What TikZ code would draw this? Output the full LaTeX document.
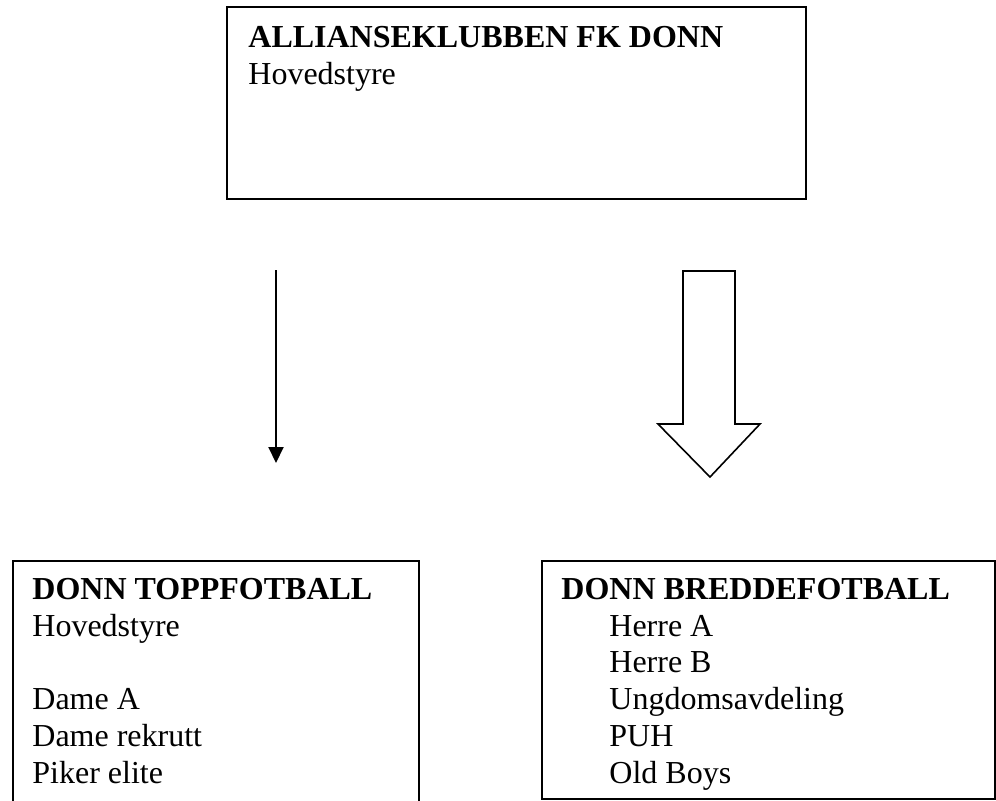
\documentclass[tikz,border=0pt]{standalone}
\usepackage{fontspec}
\setmainfont{Liberation Serif}
\usetikzlibrary{arrows.meta}
\tikzset{
  box/.style={draw=black, line width=1pt, rectangle, inner sep=0pt, anchor=north west},
  txt/.style={anchor=base west, inner sep=0pt, font=\fontsize{16}{18}\selectfont},
  ttl/.style={txt, font=\fontsize{16}{18}\selectfont\bfseries},
  thinarrow/.style={line width=1pt, -{Triangle[length=8pt,width=7.5pt]}},
  blockarrow/.style={draw=black, line width=0.8pt, fill=white, line join=miter}
}
\begin{document}
\begin{tikzpicture}[x=0.5pt,y=-0.5pt]
\useasboundingbox (0,0) rectangle (996,800);
% top box
\node[box, minimum width=289.5pt, minimum height=96pt] (top) at (226,6) {};
\node[ttl] (toptitle) at (248,47) {ALLIANSEKLUBBEN FK DONN};
\node[txt] (topsub) at (248,84) {Hovedstyre};
% left bottom box
\node[box, minimum width=203pt, minimum height=124pt] (left) at (12,560) {};
\node[ttl] (lefttitle) at (32,599) {DONN TOPPFOTBALL};
\node[txt] (l1) at (32,636) {Hovedstyre};
\node[txt] (l2) at (32,709) {Dame A};
\node[txt] (l3) at (32,746) {Dame rekrutt};
\node[txt] (l4) at (32,783) {Piker elite};
% right bottom box
\node[box, minimum width=226.5pt, minimum height=119pt] (right) at (541,560) {};
\node[ttl] (righttitle) at (561,599) {DONN BREDDEFOTBALL};
\node[txt] (r1) at (609,636) {Herre A};
\node[txt] (r2) at (609,672) {Herre B};
\node[txt] (r3) at (609,709) {Ungdomsavdeling};
\node[txt] (r4) at (609,746) {PUH};
\node[txt] (r5) at (609,783) {Old Boys};
% thin arrow
\coordinate (a1s) at (276,270);
\coordinate (a1e) at (276,463);
\draw[thinarrow] (a1s) -- (a1e);
% block arrow
\draw[blockarrow] (683,271) -- (735,271) -- (735,424) -- (760,424) -- (710,477) -- (658,424) -- (683,424) -- cycle;
\end{tikzpicture}
\end{document}
